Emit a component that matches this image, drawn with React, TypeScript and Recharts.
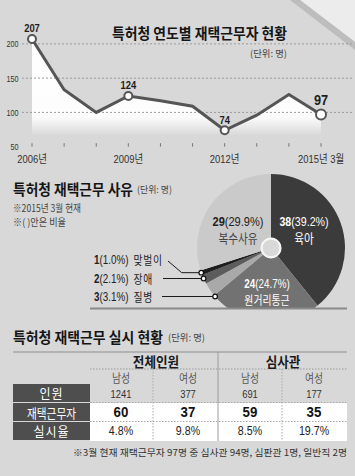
import React from 'react';
import {
  ComposedChart,
  Area,
  Line,
  XAxis,
  YAxis,
  ReferenceLine,
  LabelList,
  PieChart,
  Pie,
  Cell,
} from 'recharts';

// ---------- data: line chart (연도별 재택근무자)
const yearTickLabels = ['2006년', '', '', '2009년', '', '', '2012년', '', '', '2015년 3월'];
const remoteWorkerCounts = [207, 133, 100, 124, 117, 109, 74, 96, 126, 97];
const pointValueLabels = ['207', '', '', '124', '', '', '74', '', '', '97'];
const yTicks = [50, 100, 150, 200];
const gridLevels = [200, 150, 100];

// ---------- data: pie (재택근무 사유)
const reasonNames = ['육아', '원거리통근', '질병', '장애', '맞벌이', '복수사유'];
const reasonCounts = [38, 24, 3, 2, 1, 29];
const reasonShares = ['39.2%', '24.7%', '3.1%', '2.1%', '1.0%', '29.9%'];

// ---------- data: table (재택근무 실시 현황)
const groupHeaders = ['전체인원', '심사관'];
const genderHeaders = ['남성', '여성', '남성', '여성'];
const rowHeaders = ['인원', '재택근무자', '실시율'];
const staffCounts = ['1241', '377', '691', '177'];
const remoteCounts = ['60', '37', '59', '35'];
const remoteRates = ['4.8%', '9.8%', '8.5%', '19.7%'];

// ---------- styles
const NUM = "'Liberation Sans',Arial,'Noto Sans CJK KR',sans-serif";
const KR = "'Noto Sans CJK KR','Noto Sans',sans-serif";
const BG = '#d8d8d8';
const LINE_COLOR = '#555555';
const SLICE_COLORS = ['#3b3b3b', '#727272', '#a9a9a9', '#5c5c5c', '#1e1e1e', '#cacaca'];
const SQUEEZE = 0.82;

const lineData = remoteWorkerCounts.map((v, i) => ({ i, v, lab: pointValueLabels[i] }));
const tickIdx = remoteWorkerCounts.map((_, i) => i);
const pieData = reasonNames.map((name, i) => ({ name, value: reasonCounts[i] }));

// label placement (relative to pie centre) for the big slices
const INSIDE_LABEL: Record<
  string,
  { dx: number; dy: number; gap: number; light: boolean; size: number; nameSize: number }
> = {
  육아: { dx: 33, dy: -19, gap: 15.5, light: true, size: 13, nameSize: 13 },
  복수사유: { dx: -33, dy: -19, gap: 15.5, light: false, size: 13.5, nameSize: 13 },
  원거리통근: { dx: -4, dy: 43.5, gap: 16, light: true, size: 12, nameSize: 12 },
};
// leader rows (relative y to pie centre) for the small slices
const LEADER: Record<string, { rowDy: number; lineStart: number }> = {
  맞벌이: { rowDy: 11.5, lineStart: 168 },
  장애: { rowDy: 30.5, lineStart: 163 },
  질병: { rowDy: 48.5, lineStart: 162 },
};
const LEADER_TEXT_X = 94;

const COL_EDGES = [90, 153, 218, 282, 347];
const COL_CENTERS = [121, 188, 250, 314];
const ROW_TOP = 384;
const ROW_H = 19;

// condensed text helper (newspaper-style narrow figures)
const NText = (props: any) => {
  const { x, y, sx = SQUEEZE, children, ...rest } = props;
  return (
    <text
      transform={`translate(${x},${y}) scale(${sx},1)`}
      x={0}
      y={0}
      dominantBaseline="central"
      fontFamily={NUM}
      {...rest}
    >
      {children}
    </text>
  );
};

// ---------- line chart parts
const XTick = (props: any) => {
  const { x, y, payload } = props;
  const label = yearTickLabels[payload.value];
  return (
    <g>
      <line x1={x} x2={x} y1={y - 3.5} y2={y} stroke="#777" strokeWidth={1} />
      {label ? (
        <NText x={x} y={y + 11.8} textAnchor="middle" fontSize={11.5} fill="#333">
          {label}
        </NText>
      ) : null}
    </g>
  );
};

const YTick = (props: any) => {
  const { x, y, payload } = props;
  return (
    <NText x={x - 13.5} y={y + 0.8} textAnchor="end" fontSize={9} sx={0.8} fill="#333">
      {payload.value}
    </NText>
  );
};

const renderDot = (p: any) => {
  const { cx, cy, index } = p;
  if (!pointValueLabels[index]) return <g key={`d${index}`} />;
  const last = index === remoteWorkerCounts.length - 1;
  return (
    <circle
      key={`d${index}`}
      cx={cx}
      cy={cy}
      r={last ? 5 : 4}
      fill="#fff"
      stroke={LINE_COLOR}
      strokeWidth={2}
    />
  );
};

const renderPointLabel = (p: any) => {
  const { x, y, value, index } = p;
  if (!value) return null;
  const last =
    index === remoteWorkerCounts.length - 1 || value === pointValueLabels[pointValueLabels.length - 1];
  return (
    <NText
      x={x}
      y={y - (last ? 14.5 : 11)}
      sx={last ? 0.85 : SQUEEZE}
      textAnchor="middle"
      fontSize={last ? 15 : 11.5}
      fontWeight={700}
      fill="#1e1e1e"
    >
      {value}
    </NText>
  );
};

// ---------- pie labels
const renderPieLabel = (p: any) => {
  const { cx, cy, midAngle, outerRadius, index } = p;
  const name = reasonNames[index];
  const inside = INSIDE_LABEL[name];
  if (inside) {
    const col = inside.light ? '#fff' : '#222';
    const nameCol = inside.light ? '#fff' : '#444';
    const x = cx + inside.dx;
    const y = cy + inside.dy;
    return (
      <g key={`pl${index}`}>
        <NText x={x} y={y - inside.gap / 2} textAnchor="middle" fontSize={inside.size} fill={col}>
          <tspan fontWeight={700}>{reasonCounts[index]}</tspan>
          <tspan>({reasonShares[index]})</tspan>
        </NText>
        <NText
          x={x}
          y={y + inside.gap / 2}
          textAnchor="middle"
          fontFamily={KR}
          fontSize={inside.nameSize}
          fill={nameCol}
        >
          {name}
        </NText>
      </g>
    );
  }
  const lead = LEADER[name];
  if (!lead) return null;
  const rad = (-midAngle * Math.PI) / 180;
  const mx = cx + outerRadius * Math.cos(rad);
  const my = cy + outerRadius * Math.sin(rad);
  const rowY = cy + lead.rowDy;
  let pts: [number, number][];
  let dot: [number, number];
  if (Math.abs(my - rowY) < 8) {
    const ex = cx - Math.sqrt(outerRadius * outerRadius - (rowY - cy) * (rowY - cy));
    dot = [ex, rowY];
    pts = [[lead.lineStart, rowY], dot];
  } else {
    dot = [mx, my];
    pts = [[lead.lineStart, rowY + 1.5], [mx - 19.5, my], dot];
  }
  return (
    <g key={`pl${index}`}>
      <polyline
        points={pts.map((q) => q.join(',')).join(' ')}
        fill="none"
        stroke="#1a1a1a"
        strokeWidth={1}
      />
      <circle cx={dot[0]} cy={dot[1]} r={2.3} fill="#fff" stroke="#111" strokeWidth={1.2} />
      <NText x={LEADER_TEXT_X} y={rowY} fontSize={12} fill="#222">
        <tspan fontWeight={700}>{reasonCounts[index]}</tspan>
        <tspan>({reasonShares[index]})</tspan>
        <tspan dx={6} fontFamily={KR} fontSize={12} letterSpacing={1}>
          {name}
        </tspan>
      </NText>
    </g>
  );
};

export default function App() {
  const W = 355;
  const H = 476;
  return (
    <div
      style={{
        position: 'absolute',
        left: 0,
        top: 0,
        width: W,
        height: H,
        background: BG,
        overflow: 'hidden',
        fontFamily: KR,
      }}
    >
      {/* decorative folded corner */}
      <svg width={W} height={H} style={{ position: 'absolute', left: 0, top: 0 }}>
        <polygon points="300,0 355,0 355,42" fill="#ececec" />
        <polygon points="290,0 300,0 355,42 355,50" fill="#bdbdbd" />
      </svg>

      {/* line chart */}
      <div style={{ position: 'absolute', left: 0, top: 0 }}>
        <ComposedChart
          width={355}
          height={170}
          data={lineData}
          margin={{ top: 37, right: 34, bottom: 3.3, left: 0 }}
        >
          <defs>
            <linearGradient id="whiteFade" x1="0" y1="0" x2="0" y2="1">
              <stop offset="0" stopColor="#ffffff" stopOpacity={1} />
              <stop offset="0.8" stopColor="#ffffff" stopOpacity={0.95} />
              <stop offset="1" stopColor="#ffffff" stopOpacity={0} />
            </linearGradient>
          </defs>
          <XAxis
            type="number"
            dataKey="i"
            domain={[0, 9]}
            ticks={tickIdx}
            interval={0}
            height={20}
            axisLine={false}
            tickLine={false}
            tickSize={0}
            tickMargin={0}
            tick={<XTick />}
          />
          <YAxis
            type="number"
            domain={[50, 210]}
            ticks={yTicks}
            interval={0}
            width={32}
            axisLine={false}
            tickLine={false}
            tickSize={0}
            tickMargin={0}
            tick={<YTick />}
          />
          <Area
            type="linear"
            dataKey="v"
            baseValue={66}
            fill="url(#whiteFade)"
            fillOpacity={1}
            stroke="none"
            activeDot={false}
            isAnimationActive={false}
          />
          {gridLevels.map((g) => (
            <ReferenceLine
              key={g}
              segment={[
                { x: -0.31, y: g },
                { x: 10, y: g },
              ]}
              ifOverflow="visible"
              stroke="#9a9a9a"
              strokeWidth={1}
              strokeDasharray="2 2"
            />
          ))}
          <Line
            type="linear"
            dataKey="v"
            stroke={LINE_COLOR}
            strokeWidth={3}
            dot={renderDot}
            activeDot={false}
            isAnimationActive={false}
          >
            <LabelList dataKey="lab" content={renderPointLabel} />
          </Line>
        </ComposedChart>
      </div>

      {/* pie chart (clipped at the baseline) */}
      <div style={{ position: 'absolute', left: 0, top: 160, width: 355, height: 148, overflow: 'hidden' }}>
        <PieChart width={355} height={148} margin={{ top: 0, right: 0, bottom: 0, left: 0 }}>
          <Pie
            data={pieData}
            dataKey="value"
            nameKey="name"
            cx={271}
            cy={88}
            outerRadius={74}
            innerRadius={10}
            startAngle={90}
            endAngle={-270}
            stroke="none"
            label={renderPieLabel}
            labelLine={false}
            isAnimationActive={false}
          >
            {pieData.map((d, i) => (
              <Cell key={d.name} fill={SLICE_COLORS[i]} />
            ))}
          </Pie>
          <Pie
            data={[{ name: 'ring', value: 1 }]}
            dataKey="value"
            cx={271}
            cy={88}
            outerRadius={10.5}
            innerRadius={8.3}
            startAngle={90}
            endAngle={-270}
            fill="#f6f6f6"
            stroke="none"
            isAnimationActive={false}
          />
        </PieChart>
      </div>

      {/* titles, notes and table */}
      <svg
        width={W}
        height={H}
        style={{ position: 'absolute', left: 0, top: 0, pointerEvents: 'none' }}
      >
        {/* section 1 */}
        <text
          x={112}
          y={32.5}
          dominantBaseline="central"
          fontFamily={KR}
          fontWeight={700}
          fontSize={15}
          fill="#151515"
          textLength={175}
          lengthAdjust="spacingAndGlyphs"
        >
          특허청 연도별 재택근무자 현황
        </text>
        <text
          x={250}
          y={53}
          dominantBaseline="central"
          fontFamily={KR}
          fontSize={9.5}
          fill="#444"
          textLength={37}
          lengthAdjust="spacingAndGlyphs"
        >
          (단위: 명)
        </text>

        {/* section 2 */}
        <text
          x={13}
          y={188}
          dominantBaseline="central"
          fontFamily={KR}
          fontWeight={700}
          fontSize={14.5}
          fill="#151515"
          textLength={120}
          lengthAdjust="spacingAndGlyphs"
        >
          특허청 재택근무 사유
        </text>
        <text
          x={137}
          y={189}
          dominantBaseline="central"
          fontFamily={KR}
          fontSize={9.5}
          fill="#444"
          textLength={35}
          lengthAdjust="spacingAndGlyphs"
        >
          (단위: 명)
        </text>
        <text
          x={13}
          y={207.5}
          dominantBaseline="central"
          fontFamily={KR}
          fontSize={10}
          fill="#444"
          textLength={68}
          lengthAdjust="spacingAndGlyphs"
        >
          ※2015년 3월 현재
        </text>
        <text
          x={13}
          y={221.5}
          dominantBaseline="central"
          fontFamily={KR}
          fontSize={10}
          fill="#444"
          textLength={53}
          lengthAdjust="spacingAndGlyphs"
        >
          ※( )안은 비율
        </text>
        <line x1={90} x2={347} y1={308.5} y2={308.5} stroke="#8a8a8a" strokeWidth={2} />

        {/* section 3 */}
        <text
          x={13}
          y={336}
          dominantBaseline="central"
          fontFamily={KR}
          fontWeight={700}
          fontSize={14.5}
          fill="#151515"
          textLength={150}
          lengthAdjust="spacingAndGlyphs"
        >
          특허청 재택근무 실시 현황
        </text>
        <text
          x={168}
          y={337}
          dominantBaseline="central"
          fontFamily={KR}
          fontSize={9.5}
          fill="#444"
          textLength={37}
          lengthAdjust="spacingAndGlyphs"
        >
          (단위: 명)
        </text>

        {/* table body */}
        <rect
          x={COL_EDGES[0]}
          y={ROW_TOP + ROW_H}
          width={COL_EDGES[4] - COL_EDGES[0]}
          height={ROW_H * 2}
          fill="#fff"
        />
        {rowHeaders.map((h, r) => (
          <rect key={`rh${h}`} x={13} y={ROW_TOP + r * ROW_H} width={77} height={ROW_H - 1} fill="#4e4e4e" />
        ))}
        <line x1={13} x2={347} y1={352} y2={352} stroke="#8c8c8c" strokeWidth={1} />
        <line
          x1={COL_EDGES[2]}
          x2={COL_EDGES[2]}
          y1={352}
          y2={ROW_TOP + ROW_H * 3}
          stroke="#9a9a9a"
          strokeWidth={1}
        />
        <line x1={COL_EDGES[0]} x2={COL_EDGES[4]} y1={369} y2={369} stroke="#9a9a9a" strokeDasharray="1.5 1.5" />
        {[1, 2].map((r) => (
          <line
            key={`hl${r}`}
            x1={COL_EDGES[0]}
            x2={COL_EDGES[4]}
            y1={ROW_TOP + r * ROW_H - 0.5}
            y2={ROW_TOP + r * ROW_H - 0.5}
            stroke="#aaa"
            strokeDasharray="1.5 1.5"
          />
        ))}
        {[1, 3].map((c) => (
          <line
            key={`vl${c}`}
            x1={COL_EDGES[c]}
            x2={COL_EDGES[c]}
            y1={369}
            y2={ROW_TOP + ROW_H * 3}
            stroke="#aaa"
            strokeDasharray="1.5 1.5"
          />
        ))}

        {groupHeaders.map((g, k) => (
          <NText
            key={g}
            x={k === 0 ? 156 : 283}
            y={361.5}
            sx={0.9}
            textAnchor="middle"
            fontFamily={KR}
            fontWeight={700}
            fontSize={14}
            fill="#1a1a1a"
          >
            {g}
          </NText>
        ))}
        {genderHeaders.map((g, c) => (
          <NText
            key={`g${c}`}
            x={COL_CENTERS[c]}
            y={377.5}
            textAnchor="middle"
            fontFamily={KR}
            fontSize={12}
            fill="#555"
          >
            {g}
          </NText>
        ))}
        {rowHeaders.map((h, r) => (
          <NText
            key={`rt${h}`}
            x={51.5}
            y={ROW_TOP + r * ROW_H + 9}
            sx={h.length > 3 ? 0.82 : 0.92}
            textAnchor="middle"
            fontFamily={KR}
            fontSize={13}
            fill="#fff"
            letterSpacing={h.length > 3 ? 0 : 1}
          >
            {h}
          </NText>
        ))}
        {staffCounts.map((v, c) => (
          <NText
            key={`s${c}`}
            x={COL_CENTERS[c]}
            y={ROW_TOP + 9.5}
            textAnchor="middle"
            fontSize={11.5}
            fill="#333"
          >
            {v}
          </NText>
        ))}
        {remoteCounts.map((v, c) => (
          <NText
            key={`r${c}`}
            x={COL_CENTERS[c]}
            y={ROW_TOP + ROW_H + 9}
            sx={0.95}
            textAnchor="middle"
            fontWeight={700}
            fontSize={14}
            fill="#111"
          >
            {v}
          </NText>
        ))}
        {remoteRates.map((v, c) => (
          <NText
            key={`p${c}`}
            x={COL_CENTERS[c]}
            y={ROW_TOP + ROW_H * 2 + 9}
            textAnchor="middle"
            fontSize={13}
            fill="#222"
          >
            {v}
          </NText>
        ))}
        <text
          x={73}
          y={451.7}
          dominantBaseline="central"
          fontFamily={KR}
          fontSize={9.5}
          fill="#333"
          textLength={274}
          lengthAdjust="spacingAndGlyphs"
        >
          ※3월 현재 재택근무자 97명 중 심사관 94명, 심판관 1명, 일반직 2명
        </text>
      </svg>
    </div>
  );
}
